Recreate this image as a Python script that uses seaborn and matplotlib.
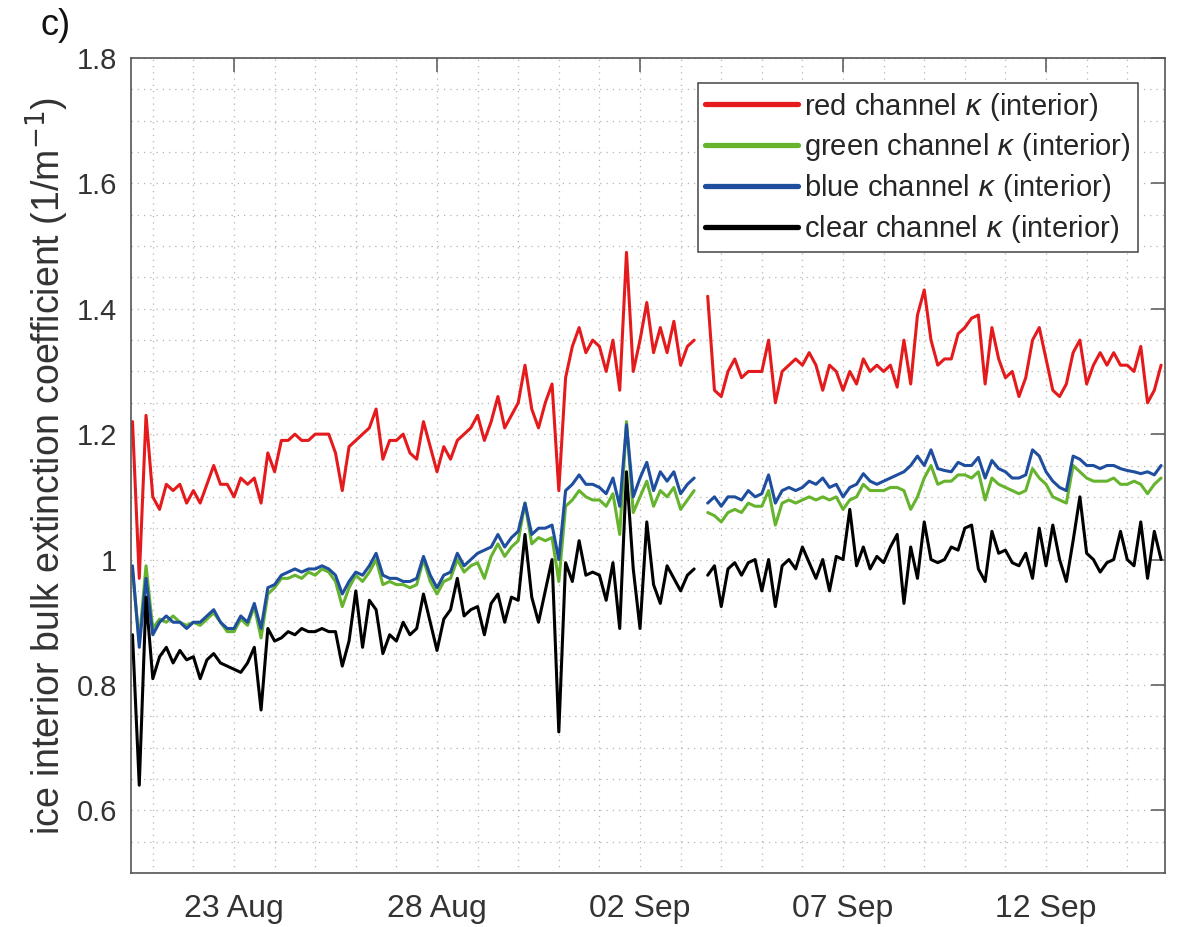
import numpy as np
import pandas as pd
import matplotlib
matplotlib.use("Agg")
import matplotlib.pyplot as plt
import matplotlib.dates as mdates
from matplotlib.ticker import MultipleLocator, FuncFormatter
import seaborn as sns

nan = np.nan

# ---- data (4-hourly samples starting 20 Aug 12:00) ----
start_time = "2015-08-20 12:00"
n_samples = 153
gap_index = 84

red = [1.22, 0.97, 1.23, 1.10, 1.08, 1.12, 1.11, 1.12, 1.09, 1.11,
       1.09, 1.12, 1.15, 1.12, 1.12, 1.10, 1.13, 1.12, 1.13, 1.09,
       1.17, 1.14, 1.19, 1.19, 1.20, 1.19, 1.19, 1.20, 1.20, 1.20,
       1.17, 1.11, 1.18, 1.19, 1.20, 1.21, 1.24, 1.16, 1.19, 1.19,
       1.20, 1.17, 1.16, 1.22, 1.18, 1.14, 1.18, 1.16, 1.19, 1.20,
       1.21, 1.23, 1.19, 1.22, 1.26, 1.21, 1.23, 1.25, 1.31, 1.24,
       1.21, 1.25, 1.28, 1.11, 1.29, 1.34, 1.37, 1.33, 1.35, 1.34,
       1.30, 1.35, 1.27, 1.49, 1.30, 1.35, 1.41, 1.33, 1.37, 1.33,
       1.38, 1.31, 1.34, 1.35, nan, 1.42, 1.27, 1.26, 1.30, 1.32,
       1.29, 1.30, 1.30, 1.30, 1.35, 1.25, 1.30, 1.31, 1.32, 1.31,
       1.33, 1.31, 1.27, 1.31, 1.30, 1.27, 1.30, 1.28, 1.32, 1.30,
       1.31, 1.30, 1.31, 1.275, 1.35, 1.28, 1.39, 1.43, 1.35, 1.31,
       1.32, 1.32, 1.36, 1.37, 1.385, 1.39, 1.28, 1.37, 1.32, 1.29,
       1.30, 1.26, 1.29, 1.35, 1.37, 1.32, 1.27, 1.26, 1.28, 1.33,
       1.35, 1.28, 1.31, 1.33, 1.31, 1.33, 1.31, 1.31, 1.30, 1.34,
       1.25, 1.27, 1.31]

green = [0.98, 0.87, 0.99, 0.89, 0.905, 0.90, 0.91, 0.90, 0.895, 0.90,
         0.895, 0.905, 0.915, 0.90, 0.885, 0.885, 0.905, 0.895, 0.925, 0.875,
         0.945, 0.955, 0.97, 0.97, 0.975, 0.97, 0.98, 0.975, 0.985, 0.98,
         0.965, 0.925, 0.955, 0.975, 0.965, 0.98, 1.00, 0.96, 0.965, 0.96,
         0.96, 0.955, 0.96, 1.00, 0.965, 0.945, 0.965, 0.97, 1.00, 0.98,
         0.99, 0.995, 0.97, 1.005, 1.025, 1.005, 1.02, 1.03, 1.09, 1.025,
         1.035, 1.03, 1.035, 0.965, 1.085, 1.095, 1.11, 1.10, 1.095, 1.095,
         1.085, 1.105, 1.04, 1.22, 1.075, 1.10, 1.125, 1.085, 1.11, 1.10,
         1.115, 1.08, 1.095, 1.11, nan, 1.075, 1.07, 1.06, 1.075, 1.08,
         1.075, 1.09, 1.085, 1.085, 1.11, 1.055, 1.09, 1.095, 1.09, 1.095,
         1.10, 1.095, 1.10, 1.095, 1.10, 1.08, 1.095, 1.10, 1.12, 1.11,
         1.11, 1.11, 1.115, 1.115, 1.11, 1.08, 1.10, 1.13, 1.15, 1.12,
         1.125, 1.125, 1.135, 1.135, 1.13, 1.14, 1.095, 1.13, 1.12, 1.115,
         1.11, 1.105, 1.11, 1.145, 1.13, 1.12, 1.10, 1.095, 1.09, 1.15,
         1.14, 1.13, 1.125, 1.125, 1.125, 1.13, 1.12, 1.12, 1.125, 1.12,
         1.105, 1.12, 1.13]

blue = [0.99, 0.86, 0.97, 0.88, 0.90, 0.91, 0.90, 0.90, 0.89, 0.90,
        0.90, 0.91, 0.92, 0.90, 0.89, 0.89, 0.91, 0.90, 0.93, 0.89,
        0.955, 0.96, 0.975, 0.98, 0.985, 0.98, 0.985, 0.985, 0.99, 0.985,
        0.975, 0.945, 0.965, 0.98, 0.975, 0.99, 1.01, 0.975, 0.97, 0.97,
        0.965, 0.965, 0.97, 1.005, 0.975, 0.955, 0.975, 0.98, 1.01, 0.99,
        1.00, 1.01, 1.015, 1.02, 1.04, 1.02, 1.035, 1.045, 1.09, 1.04,
        1.05, 1.05, 1.055, 1.00, 1.11, 1.12, 1.135, 1.12, 1.12, 1.115,
        1.105, 1.13, 1.085, 1.215, 1.10, 1.13, 1.155, 1.11, 1.14, 1.125,
        1.14, 1.105, 1.12, 1.13, nan, 1.09, 1.10, 1.085, 1.10, 1.10,
        1.095, 1.11, 1.10, 1.105, 1.135, 1.09, 1.11, 1.115, 1.11, 1.115,
        1.125, 1.12, 1.13, 1.115, 1.12, 1.10, 1.115, 1.12, 1.137, 1.125,
        1.12, 1.125, 1.13, 1.135, 1.14, 1.15, 1.165, 1.15, 1.175, 1.145,
        1.142, 1.14, 1.155, 1.15, 1.15, 1.163, 1.13, 1.158, 1.145, 1.14,
        1.13, 1.13, 1.135, 1.175, 1.165, 1.14, 1.125, 1.115, 1.11, 1.165,
        1.16, 1.15, 1.15, 1.145, 1.15, 1.15, 1.145, 1.142, 1.14, 1.137,
        1.14, 1.135, 1.15]

clear = [0.88, 0.64, 0.94, 0.81, 0.845, 0.86, 0.835, 0.855, 0.84, 0.845,
         0.81, 0.84, 0.85, 0.835, 0.83, 0.825, 0.82, 0.835, 0.86, 0.76,
         0.89, 0.87, 0.875, 0.885, 0.88, 0.89, 0.885, 0.885, 0.89, 0.885,
         0.885, 0.83, 0.87, 0.95, 0.86, 0.935, 0.92, 0.85, 0.88, 0.87,
         0.90, 0.88, 0.89, 0.945, 0.90, 0.855, 0.905, 0.92, 0.97, 0.91,
         0.92, 0.925, 0.88, 0.93, 0.945, 0.90, 0.94, 0.935, 1.04, 0.94,
         0.90, 0.95, 1.00, 0.725, 0.995, 0.965, 1.03, 0.975, 0.98, 0.975,
         0.935, 0.995, 0.89, 1.14, 0.985, 0.89, 1.06, 0.96, 0.93, 0.99,
         0.97, 0.95, 0.975, 0.985, nan, 0.975, 0.99, 0.925, 0.985, 0.995,
         0.975, 0.995, 1.00, 0.95, 1.00, 0.925, 0.99, 1.00, 0.985, 1.02,
         0.995, 0.97, 1.00, 0.95, 1.005, 1.00, 1.08, 0.99, 1.02, 0.985,
         1.005, 0.995, 1.02, 1.04, 0.93, 1.02, 0.97, 1.06, 1.00, 0.995,
         1.00, 1.02, 1.015, 1.05, 1.055, 0.985, 0.965, 1.045, 1.01, 1.015,
         0.995, 0.99, 1.01, 0.97, 1.05, 0.99, 1.055, 1.00, 0.965, 1.03,
         1.10, 1.01, 1.00, 0.98, 0.995, 1.00, 1.045, 1.00, 0.99, 1.06,
         0.97, 1.045, 1.00]

labels = ["red channel $\\kappa$ (interior)",
          "green channel $\\kappa$ (interior)",
          "blue channel $\\kappa$ (interior)",
          "clear channel $\\kappa$ (interior)"]
colors = ["#E41A1C", "#66B32E", "#1F4E9F", "#000000"]
tick_dates = ["2015-08-23", "2015-08-28", "2015-09-02", "2015-09-07", "2015-09-12"]
y_ticks = [0.6, 0.8, 1.0, 1.2, 1.4, 1.6, 1.8]

# ---- long-form table ----
times = pd.date_range(start_time, periods=n_samples, freq="4h")
seg = np.where(np.arange(n_samples) < gap_index, 0, 1)
frames = []
for lab, vals in zip(labels, [red, green, blue, clear]):
    frames.append(pd.DataFrame({"time": times, "kappa": vals,
                                "channel": lab, "segment": seg}))
df = pd.concat(frames, ignore_index=True).dropna()

# ---- style ----
sns.set_style("white")
plt.rcParams["font.family"] = ["Liberation Sans", "DejaVu Sans"]
text_col = "#333333"

fig = plt.figure(figsize=(11.79, 9.27), dpi=100)
ax = fig.add_axes([131 / 1179, 1 - 873 / 927, (1165 - 131) / 1179, (873 - 58) / 927])

sns.lineplot(data=df, x="time", y="kappa", hue="channel", hue_order=labels,
             palette=dict(zip(labels, colors)), units="segment", estimator=None,
             sort=False, linewidth=2.2, ax=ax, legend=True)

ax.set_xlim(pd.Timestamp("2015-08-20 11:07"), pd.Timestamp("2015-09-14 22:19"))
ax.set_ylim(0.5, 1.8)

ax.set_xticks([pd.Timestamp(d) for d in tick_dates])
ax.xaxis.set_major_formatter(mdates.DateFormatter("%d %b"))
ax.xaxis.set_minor_locator(mdates.DayLocator())
ax.set_yticks(y_ticks)
ax.yaxis.set_minor_locator(MultipleLocator(0.05))
ax.yaxis.set_major_formatter(FuncFormatter(lambda v, p: f"{round(v, 2):g}"))

ax.grid(True, which="both", linestyle=(0, (1, 4)), color="#b4b4b4", linewidth=0.9)
ax.set_axisbelow(True)

ax.tick_params(which="major", direction="in", length=10, width=1.1, color="#555555",
               top=True, right=True, labelsize=21, labelcolor=text_col)
ax.tick_params(axis="x", which="major", pad=15, labelsize=23)
ax.tick_params(axis="y", which="major", pad=10)
ax.tick_params(which="minor", length=0, top=True, right=True)
for s in ax.spines.values():
    s.set_visible(True)
    s.set_color("#555555")
    s.set_linewidth(1.2)

ax.set_xlabel("")
ax.set_ylabel("ice interior bulk extinction coefficient (1/m$^{-1}$)",
              fontsize=27, color=text_col, labelpad=4)

handles, labs = ax.get_legend_handles_labels()
leg = ax.legend(handles, labs, loc="upper right", bbox_to_anchor=(0.974, 0.969),
                borderaxespad=0, frameon=True, fancybox=False, edgecolor="#444444",
                fontsize=21, handlelength=3.2, handletextpad=0.2,
                labelspacing=0.3, borderpad=0.25, framealpha=1)
leg.get_frame().set_linewidth(1.1)
for ln in leg.get_lines():
    ln.set_linewidth(3.8)

fig.text(40 / 1179, 1 - 8 / 927, "c)", fontsize=26, va="top", ha="left", color="#111111")

fig.savefig("out.png", dpi=100)
